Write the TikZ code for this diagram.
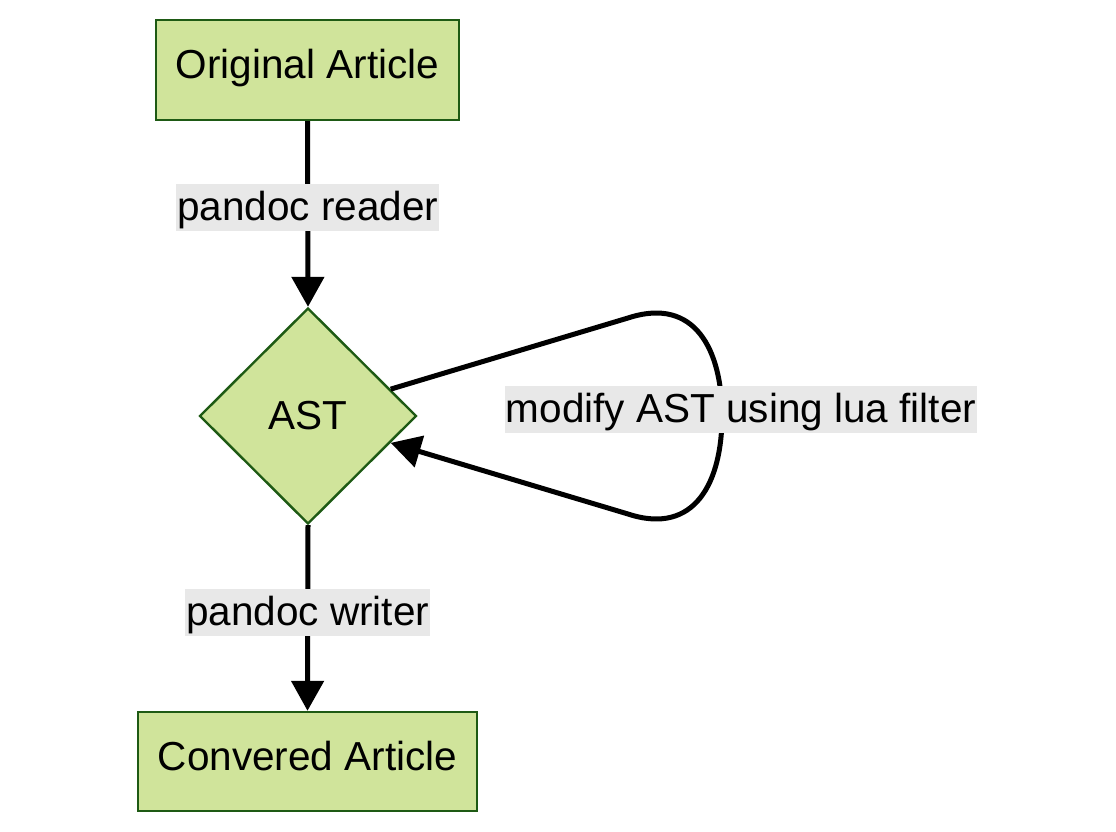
\documentclass[tikz,border=0pt]{standalone}
\usepackage{fontspec}
\setmainfont{Liberation Sans}
\usetikzlibrary{shapes.geometric,arrows.meta}
\definecolor{boxfill}{HTML}{D0E49B}
\definecolor{boxline}{HTML}{1E5A14}
\definecolor{lblbg}{HTML}{E8E8E8}
\begin{document}
\begin{tikzpicture}[x=1pt,y=-1pt,
  every node/.style={font=\fontsize{40.5}{48}\selectfont, text=black},
  box/.style={draw=boxline, fill=boxfill, line width=2.4pt, inner sep=0pt, text height=29pt, text depth=11pt},
  dia/.style={diamond, draw=boxline, fill=boxfill, line width=2.4pt, inner sep=0pt, minimum width=217pt, minimum height=216pt},
  lbl/.style={fill=lblbg, inner xsep=1pt, inner ysep=4pt, text height=33pt, text depth=6pt},
  conn/.style={line width=5pt, -{Triangle[length=30pt,width=32pt]}}
]
\useasboundingbox (0,0) rectangle (1116,832);
\node[box, minimum width=303pt, minimum height=100pt] (orig) at (307.5,70) {Original Article};
\node[dia] (ast) at (308,416) {AST};
\node[box, minimum width=339pt, minimum height=99pt] (conv) at (307.5,761.5) {Convered Article};
\draw[conn] (orig.south) -- (ast.north) node[pos=0.463, lbl] (l1) {pandoc reader};
\draw[conn] (ast.south) -- (conv.north) node[pos=0.468, lbl] (l2) {pandoc writer};
\coordinate (c1) at (628,318);
\coordinate (c2) at (722,416);
\coordinate (c3) at (628,514);
\draw[conn] (ast.18) -- (c1) .. controls (695,296) and (722,350) .. (c2) .. controls (722,482) and (695,536) .. (c3) -- (ast.-18);
\node[lbl] (l3) at (741,409) {modify AST using lua filter};
\end{tikzpicture}
\end{document}
